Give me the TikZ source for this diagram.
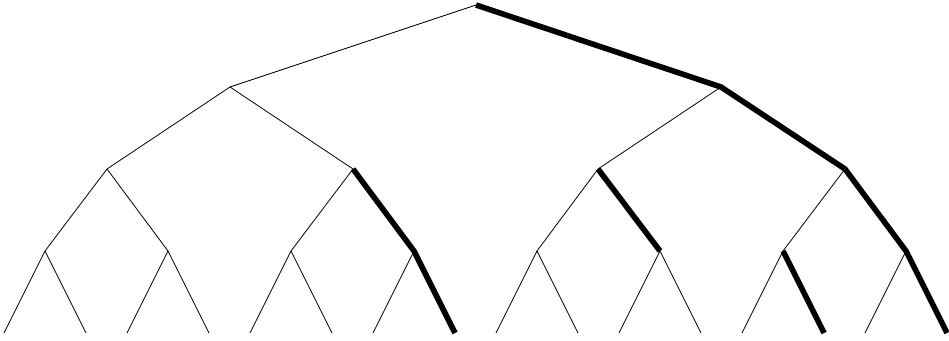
\documentclass[tikz,border=0pt]{standalone}
\begin{document}
\begin{tikzpicture}[x=1pt,y=-1pt,
  thinedge/.style={line width=0.8pt,black},
  thickedge/.style={line width=5.6pt,black,line join=miter}]
\useasboundingbox (0,0) rectangle (949,340);
% root and levels
\coordinate (r) at (476,5);
\coordinate (L) at (230,87);
\coordinate (R) at (721,87);
\coordinate (LL) at (107,169);
\coordinate (LR) at (353,169);
\coordinate (RL) at (598,169);
\coordinate (RR) at (845,169);
\foreach \i/\x in {1/45,2/168,3/291,4/414,5/537,6/660,7/783,8/906}{
  \coordinate (c\i) at (\x,251);
  \coordinate (l\i a) at (\x-41,333);
  \coordinate (l\i b) at (\x+41,333);
}
% thin edges
\draw[thinedge] (r) -- (L);
\draw[thinedge] (L) -- (LL);
\draw[thinedge] (L) -- (LR);
\draw[thinedge] (R) -- (RL);
\draw[thinedge] (LL) -- (c1);
\draw[thinedge] (LL) -- (c2);
\draw[thinedge] (LR) -- (c3);
\draw[thinedge] (RL) -- (c5);
\draw[thinedge] (RR) -- (c7);
\foreach \i in {1,...,8}{
  \draw[thinedge] (c\i) -- (l\i a);
}
\draw[thinedge] (c1) -- (l1b);
\draw[thinedge] (c2) -- (l2b);
\draw[thinedge] (c3) -- (l3b);
\draw[thinedge] (c5) -- (l5b);
\draw[thinedge] (c6) -- (l6b);
% thick edges
\draw[thickedge] (r) -- (R) -- (RR) -- (c8) -- (l8b);
\draw[thickedge] (LR) -- (c4) -- (l4b);
\draw[thickedge] (RL) -- (c6);
\draw[thickedge] (c7) -- (l7b);
\end{tikzpicture}
\end{document}
